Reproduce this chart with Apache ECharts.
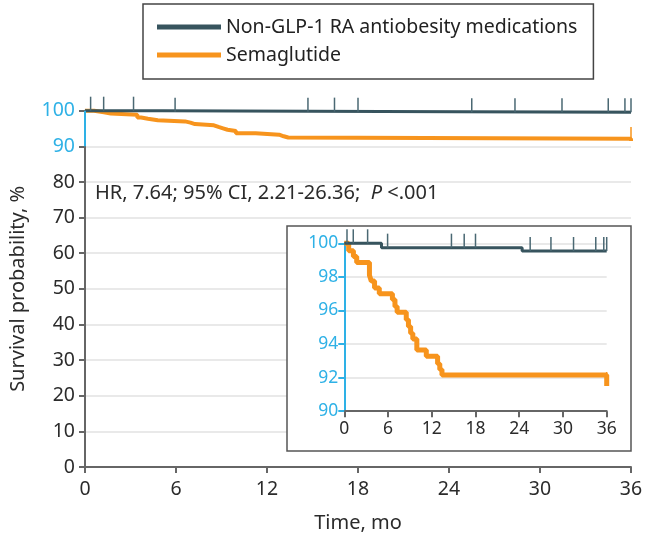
<!DOCTYPE html>
<html>
<head>
<meta charset="utf-8">
<script src="https://cdn.jsdelivr.net/npm/echarts@6/dist/echarts.min.js"></script>
<style>
html,body{margin:0;padding:0;background:#fff;}
#chart{width:649px;height:538px;}
</style>
</head>
<body>
<div id="chart"></div>
<script>
// ---- data ----
const seriesNames = ['Non-GLP-1 RA antiobesity medications', 'Semaglutide'];
const xTicks = [0, 6, 12, 18, 24, 30, 36];
const mainYTicks = [0, 10, 20, 30, 40, 50, 60, 70, 80, 90, 100];
const insetYTicks = [90, 92, 94, 96, 98, 100];

const nonGlpTime = [0, 5.1, 24.4, 36];
const nonGlpSurv = [100, 99.74, 99.54, 99.54];
const nonGlpCensor = [0.37, 1.23, 3.2, 5.94, 14.7, 16.45, 18.0, 25.5, 28.35, 31.45, 34.5, 35.6, 36.0];

const semaTime = [0, 0.6, 1.25, 1.7, 3.45, 3.7, 4.15, 4.8, 6.6, 6.95, 7.25, 8.5, 8.8, 9.1, 9.4, 9.95, 11.25, 12.8, 13.1, 13.4, 36, 36];
const semaSurv = [100, 99.55, 99.22, 98.86, 98.1, 97.76, 97.34, 97.0, 96.66, 96.24, 95.9, 95.45, 95.05, 94.65, 94.3, 93.65, 93.28, 92.82, 92.48, 92.16, 92.16, 91.5];
const semaCensor = [36];

const hrText = ['HR, 7.64; 95% CI, 2.21-26.36;  ', 'P', ' <.001'];
const yAxisName = 'Survival probability, %';
const xAxisName = 'Time, mo';

// ---- helpers ----
const DARK = '#37545e';
const ORANGE = '#f7941d';
const BLUE = '#2eb1e6';
const TEXT = '#2b2b2b';
const FONT = 'Noto Sans';

function pairs(t, s) { return t.map((v, i) => [v, s[i]]); }
function survAt(t, times, surv) {
  let v = surv[0];
  for (let i = 0; i < times.length; i++) { if (times[i] <= t) v = surv[i]; }
  return v;
}
function censorPoints(c, times, surv) { return c.map(t => [t, survAt(t, times, surv)]); }

function tickRender(color, len, width) {
  return function (params, api) {
    const p = api.coord([api.value(0), api.value(1)]);
    return {
      type: 'line',
      shape: { x1: p[0], y1: p[1], x2: p[0], y2: p[1] - len },
      style: { stroke: color, lineWidth: width }
    };
  };
}

const chart = echarts.init(document.getElementById('chart'), null, { renderer: 'canvas' });

const axisLineGray = { show: true, lineStyle: { color: '#666', width: 2 } };

const option = {
  backgroundColor: '#fff',
  animation: false,
  textStyle: { fontFamily: FONT },
  legend: {
    data: seriesNames,
    orient: 'vertical',
    left: 143, top: 4,
    icon: 'rect',
    itemWidth: 64, itemHeight: 5,
    itemGap: 8,
    padding: [13, 16, 14, 14],
    borderColor: '#444', borderWidth: 1.5,
    textStyle: { fontFamily: FONT, fontSize: 19.5, color: '#222', lineHeight: 20 }
  },
  grid: [
    { left: 82, top: 110.7, right: 18, bottom: 70.3 },
    { left: 344.3, top: 243.3, right: 42.3, bottom: 126.8 }
  ],
  xAxis: [
    {
      gridIndex: 0, type: 'value', min: xTicks[0], max: xTicks[xTicks.length - 1], interval: 6,
      name: xAxisName, nameLocation: 'middle', nameGap: 46,
      nameTextStyle: { fontFamily: FONT, fontSize: 20, color: TEXT },
      axisLine: axisLineGray,
      axisTick: { show: true, length: 6, lineStyle: { color: '#666', width: 2 } },
      axisLabel: { fontFamily: FONT, fontSize: 19.5, color: TEXT, margin: 12 },
      splitLine: { show: false }
    },
    {
      gridIndex: 1, type: 'value', min: xTicks[0], max: xTicks[xTicks.length - 1], interval: 6, z: 5,
      axisLine: axisLineGray,
      axisTick: { show: true, length: 6, lineStyle: { color: '#666', width: 2 } },
      axisLabel: { fontFamily: FONT, fontSize: 17.5, color: TEXT, margin: 9 },
      splitLine: { show: false }
    }
  ],
  yAxis: [
    {
      gridIndex: 0, type: 'value', min: mainYTicks[0], max: mainYTicks[mainYTicks.length - 1], interval: 10,
      name: yAxisName, nameLocation: 'middle', nameGap: 57,
      nameTextStyle: { fontFamily: FONT, fontSize: 20, color: TEXT },
      axisLine: axisLineGray,
      axisTick: { show: true, length: 6, lineStyle: { color: '#666', width: 2 } },
      axisLabel: {
        fontFamily: FONT, fontSize: 19.5, margin: 10,
        color: function (v) { return v >= 90 ? BLUE : TEXT; }
      },
      splitLine: { show: true, lineStyle: { color: '#e2e2e2', width: 1.5 } }
    },
    {
      gridIndex: 1, type: 'value', min: insetYTicks[0], max: insetYTicks[insetYTicks.length - 1], interval: 2, z: 5,
      axisLine: { show: true, lineStyle: { color: BLUE, width: 2 } },
      axisTick: { show: true, length: 6, lineStyle: { color: BLUE, width: 2 } },
      axisLabel: { fontFamily: FONT, fontSize: 17.5, color: BLUE, margin: 6 },
      splitLine: { show: true, lineStyle: { color: '#e2e2e2', width: 1.5 } }
    }
  ],
  graphic: [
    {
      type: 'rect', z: 1, silent: true,
      shape: { x: 287, y: 226, width: 344, height: 225 },
      style: { fill: '#fff', stroke: '#555', lineWidth: 1.5 }
    },
    {
      type: 'text', z: 10, left: 95, top: 183,
      style: {
        text: '{a|' + hrText[0] + '}{p|' + hrText[1] + '}{a|' + hrText[2] + '}',
        rich: {
          a: { fontFamily: FONT, fontSize: 20, fill: TEXT, color: TEXT },
          p: { fontFamily: FONT, fontSize: 20, fontStyle: 'italic', fill: TEXT, color: TEXT }
        }
      }
    }
  ],
  series: [
    {
      name: seriesNames[0], type: 'line', xAxisIndex: 0, yAxisIndex: 0, step: 'end',
      data: pairs(nonGlpTime, nonGlpSurv), showSymbol: false, clip: false, z: 4,
      color: DARK, lineStyle: { color: DARK, width: 3 },
      markLine: {
        silent: true, symbol: ['none', 'none'], label: { show: false },
        lineStyle: { color: BLUE, width: 2, type: 'solid' },
        data: [[{ coord: [xTicks[0], insetYTicks[0]] }, { coord: [xTicks[0], mainYTicks[mainYTicks.length - 1]] }]]
      }
    },
    {
      name: seriesNames[1], type: 'line', xAxisIndex: 0, yAxisIndex: 0, step: 'end',
      data: pairs(semaTime, semaSurv), showSymbol: false, clip: false, z: 3,
      color: ORANGE, lineStyle: { color: ORANGE, width: 4 }
    },
    {
      name: 'c0', type: 'custom', xAxisIndex: 0, yAxisIndex: 0, clip: false, z: 5,
      renderItem: tickRender('#4a6873', 14, 1.5),
      data: censorPoints(nonGlpCensor, nonGlpTime, nonGlpSurv)
    },
    {
      name: 'c1', type: 'custom', xAxisIndex: 0, yAxisIndex: 0, clip: false, z: 5,
      renderItem: tickRender(ORANGE, 14, 1.5),
      data: censorPoints(semaCensor, semaTime, semaSurv)
    },
    {
      name: seriesNames[0], type: 'line', xAxisIndex: 1, yAxisIndex: 1, step: 'end',
      data: pairs(nonGlpTime, nonGlpSurv), showSymbol: false, clip: false, z: 7,
      color: DARK, lineStyle: { color: DARK, width: 3 }
    },
    {
      name: seriesNames[1], type: 'line', xAxisIndex: 1, yAxisIndex: 1, step: 'end',
      data: pairs(semaTime, semaSurv), showSymbol: false, clip: false, z: 6,
      color: ORANGE, lineStyle: { color: ORANGE, width: 5 }
    },
    {
      name: 'c2', type: 'custom', xAxisIndex: 1, yAxisIndex: 1, clip: false, z: 8,
      renderItem: tickRender('#4a6873', 14, 1.5),
      data: censorPoints(nonGlpCensor, nonGlpTime, nonGlpSurv)
    },
    {
      name: 'c3', type: 'custom', xAxisIndex: 1, yAxisIndex: 1, clip: false, z: 8,
      renderItem: tickRender(ORANGE, 14, 1.5),
      data: censorPoints(semaCensor, semaTime, semaSurv)
    }
  ]
};
chart.setOption(option);
</script>
</body>
</html>
